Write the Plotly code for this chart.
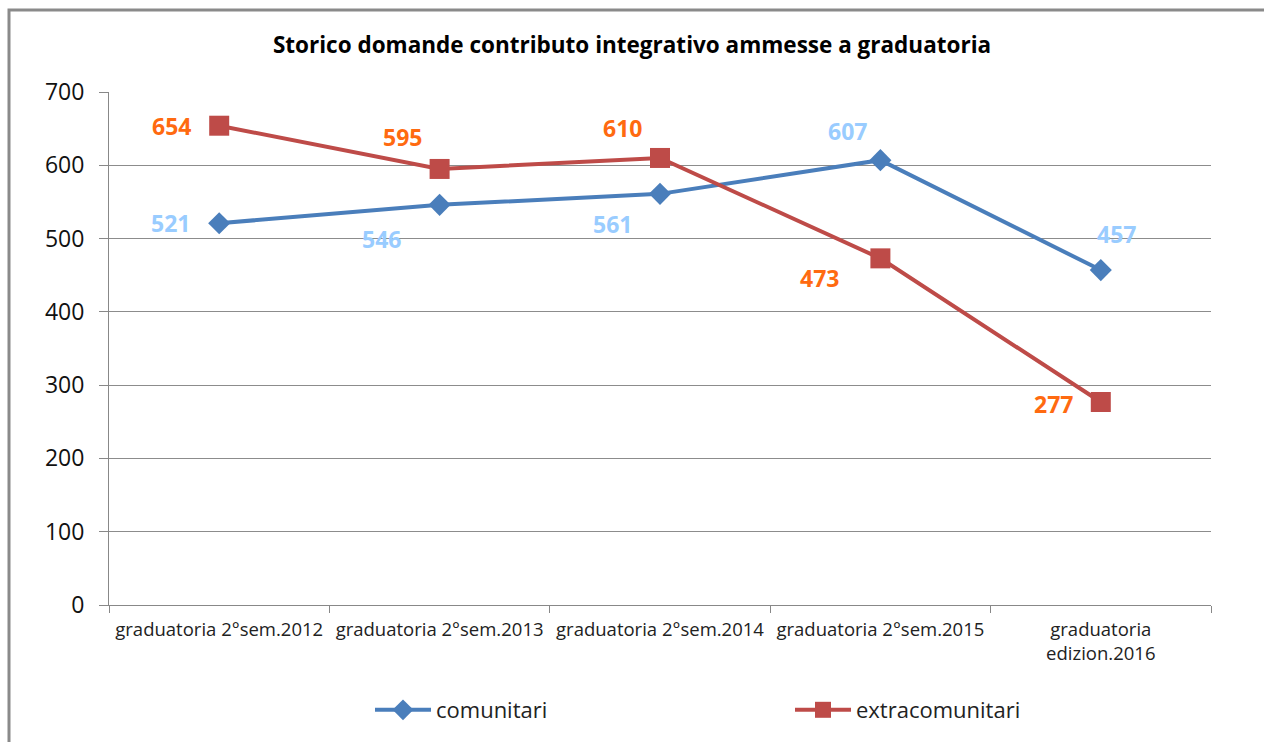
import plotly.graph_objects as go

categories = ["graduatoria 2°sem.2012", "graduatoria 2°sem.2013", "graduatoria 2°sem.2014",
              "graduatoria 2°sem.2015", "graduatoria<br>edizion.2016"]
comunitari = [521, 546, 561, 607, 457]
extracomunitari = [654, 595, 610, 473, 277]
y_ticks = [0, 100, 200, 300, 400, 500, 600, 700]

FONT = "Open Sans"
BLUE = "#4A7EBB"
RED = "#BE4B48"
LBLUE = "#99CCFF"
ORANGE = "#FF6A10"

W, H = 1264, 742
L, R, T, B = 109, 53, 92, 137
PW, PH = W - L - R, H - T - B

fig = go.Figure()
fig.add_trace(go.Scatter(x=categories, y=comunitari, name="comunitari", mode="lines+markers",
                         line=dict(color=BLUE, width=4),
                         marker=dict(symbol="diamond", size=17, color=BLUE)))
fig.add_trace(go.Scatter(x=categories, y=extracomunitari, name="extracomunitari", mode="lines+markers",
                         line=dict(color=RED, width=4),
                         marker=dict(symbol="square", size=20, color=RED)))

# label offsets (xshift, yshift) in px
c_off = [(-49, 0), (-58, -34), (-48, -30), (-33, 29), (16, 36)]
e_off = [(-48, 0), (-37, 32), (-38, 30), (-61, -20), (-47, -2)]
for cat, v, (dx, dy) in zip(categories, comunitari, c_off):
    fig.add_annotation(x=cat, y=v, text=f"<b>{v}</b>", showarrow=False, xshift=dx, yshift=dy,
                       font=dict(family=FONT, size=23, color=LBLUE))
for cat, v, (dx, dy) in zip(categories, extracomunitari, e_off):
    fig.add_annotation(x=cat, y=v, text=f"<b>{v}</b>", showarrow=False, xshift=dx, yshift=dy,
                       font=dict(family=FONT, size=23, color=ORANGE))

fig.update_layout(
    width=W, height=H,
    paper_bgcolor="white", plot_bgcolor="white",
    margin=dict(l=L, r=R, t=T, b=B, autoexpand=False),
    title=dict(text="<b>Storico domande contributo integrativo ammesse a graduatoria</b>",
               x=0.5, xanchor="center", y=1 - 45 / H, yanchor="middle",
               font=dict(family=FONT, size=22.5, color="black")),
    font=dict(family=FONT, color="#222"),
    showlegend=True,
    legend=dict(orientation="h", x=(370 - L) / PW, xanchor="left", y=-(710 - (H - B)) / PH, yanchor="middle",
                font=dict(family=FONT, size=22, color="#222"),
                entrywidth=349, entrywidthmode="pixels", itemwidth=56, tracegroupgap=0),
    xaxis=dict(type="category", range=[-0.5, 4.5], tickson="boundaries", ticks="outside", ticklen=7,
               tickcolor="#888", showline=True, linecolor="#888", linewidth=1, showgrid=False,
               ticklabelstandoff=8, tickangle=0,
               tickfont=dict(family=FONT, size=18.5, color="#222")),
    yaxis=dict(range=[0, 700], tickvals=y_ticks, ticks="outside", ticklen=9, tickcolor="#888",
               showline=True, linecolor="#888", linewidth=1, showgrid=True, gridcolor="#8C8C8C",
               gridwidth=1, zeroline=False, ticklabelstandoff=10,
               tickfont=dict(family=FONT, size=23, color="#111")),
)
fig.add_shape(type="rect", xref="paper", yref="paper",
              x0=(9 - L) / PW, x1=1.2, y0=-0.5, y1=1 + (T - 10) / PH,
              line=dict(color="#8A8A8A", width=3), fillcolor="rgba(0,0,0,0)", layer="below")

fig.write_html("out.html", config={"displayModeBar": False},
               post_script="document.body.style.margin='0';document.body.style.overflow='hidden';")
